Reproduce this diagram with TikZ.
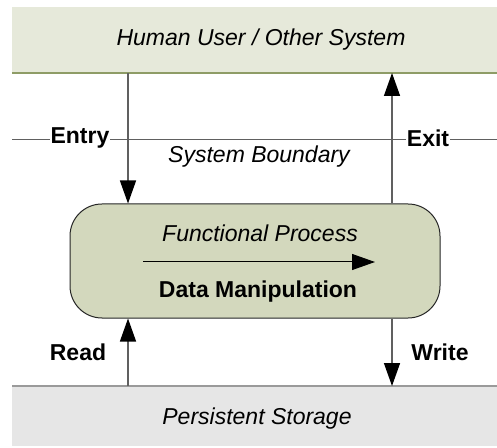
\documentclass[tikz,border=0pt]{standalone}
\usepackage{fontspec}
\setmainfont{Liberation Sans}
\usetikzlibrary{arrows.meta}
\definecolor{bandgreen}{HTML}{E6E9DA}
\definecolor{bandline}{HTML}{8E9C66}
\definecolor{procfill}{HTML}{D3D8BD}
\definecolor{storefill}{HTML}{E6E6E6}
\definecolor{storeline}{HTML}{9A9A9A}
\definecolor{flowline}{HTML}{606060}
\tikzset{
  lbl/.style={font=\fontsize{23}{27}\selectfont, inner sep=0pt},
  ital/.style={lbl, font=\fontsize{23}{27}\selectfont\itshape},
  bold/.style={lbl, font=\fontsize{23}{27}\selectfont\bfseries},
  flow/.style={draw=flowline, line width=1.4pt, -{Triangle[length=23pt,width=16pt,fill=black,color=black]}},
}
\begin{document}
\begin{tikzpicture}[x=1pt,y=1pt]
\useasboundingbox (0,0) rectangle (497,447);
% actor band
\fill[bandgreen] (12,374) rectangle (497,440);
\draw[bandline, line width=1.5pt] (12,374) -- (497,374);
\node[ital] (user) at (261,407) {Human User / Other System};
% storage band
\fill[storefill] (12,1) rectangle (497,61);
\draw[storeline, line width=1.5pt] (12,61) -- (497,61);
\node[ital] (store) at (257,28) {Persistent Storage};
% system boundary
\draw[flowline, line width=0.8pt] (12,308) -- (497,308);
\node[bold, fill=white, inner xsep=1pt, inner ysep=2pt] (entry) at (80,309) {Entry};
\node[bold, fill=white, inner xsep=1pt, inner ysep=2pt] (exit) at (428,309) {Exit};
\node[ital] (boundary) at (259,290) {System Boundary};
% functional process
\node[draw=black!85, line width=1pt, fill=procfill, rounded corners=32pt,
      minimum width=370pt, minimum height=114pt, inner sep=0pt] (proc) at (255,186) {};
\node[ital] (fp) at (260,214) {Functional Process};
\node[bold] (dm) at (258,155) {Data Manipulation};
\coordinate (ma) at (143,185);
\coordinate (mb) at (375,185);
\draw[line width=1pt, -{Triangle[length=23pt,width=16pt]}] (ma) -- (mb);
% data movements
\coordinate (lc) at (128,0);
\coordinate (rc) at (392,0);
\draw[flow] (lc |- 0,374) -- (lc |- proc.north);
\draw[flow] (rc |- proc.north) -- (rc |- 0,374);
\draw[flow] (lc |- 0,61) -- (lc |- proc.south);
\draw[flow] (rc |- proc.south) -- (rc |- 0,61);
\node[bold] (read) at (78,95) {Read};
\node[bold] (write) at (440,95) {Write};
\end{tikzpicture}
\end{document}
